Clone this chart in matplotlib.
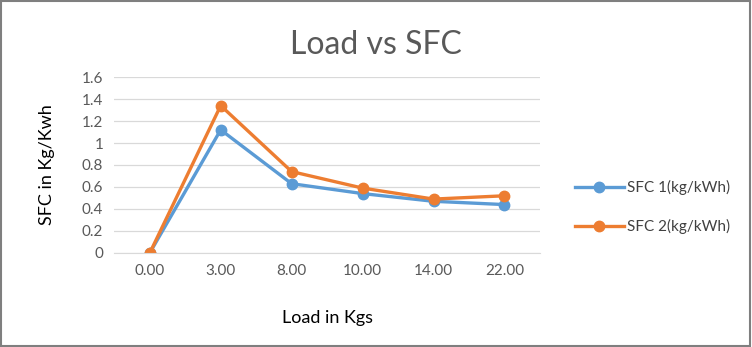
import numpy as np
import matplotlib.pyplot as plt
from matplotlib.patches import Rectangle

loads = ["0.00", "3.00", "8.00", "10.00", "14.00", "22.00"]
sfc1 = [0.0, 1.12, 0.63, 0.54, 0.47, 0.44]
sfc2 = [0.0, 1.34, 0.74, 0.59, 0.49, 0.52]

plt.rcParams['font.family'] = ['Lato', 'DejaVu Sans']

fig = plt.figure(figsize=(7.52, 3.47), dpi=100)
ax = fig.add_axes([0.152, 0.271, 0.566, 0.507])

x = np.arange(len(loads))
ax.plot(x, sfc1, color='#5B9BD5', lw=2.4, marker='o', ms=7.5, label='SFC 1(kg/kWh)')
ax.plot(x, sfc2, color='#ED7D31', lw=2.4, marker='o', ms=7.5, label='SFC 2(kg/kWh)')

ax.set_xlim(-0.5, len(loads) - 0.5)
ax.set_ylim(0, 1.6)
ax.set_yticks(np.arange(0, 1.61, 0.2))
ax.set_yticklabels(["0", "0.2", "0.4", "0.6", "0.8", "1", "1.2", "1.4", "1.6"])
ax.set_xticks(x)
ax.set_xticklabels(loads)
ax.grid(axis='y', color='#D9D9D9', lw=0.9)
ax.set_axisbelow(True)
for s in ['top', 'right', 'left']:
    ax.spines[s].set_visible(False)
ax.spines['bottom'].set_color('#D9D9D9')
ax.tick_params(length=0, labelsize=11, colors='#595959', pad=8)

ax.set_xlabel("Load in Kgs", fontsize=13, labelpad=23, color='black')
ax.set_ylabel("SFC in Kg/Kwh", fontsize=13, labelpad=19, color='black')
fig.text(0.500, 0.87, "Load vs SFC", fontsize=23, color='#595959', ha='center', va='center')

ax.legend(loc='center left', bbox_to_anchor=(1.05, 0.26), frameon=False, fontsize=11,
          labelspacing=1.55, handlelength=3.2, handletextpad=0.2, labelcolor='#404040')

fig.patches.append(Rectangle((0.001, 0.002), 0.997, 0.995, transform=fig.transFigure,
                             fill=False, edgecolor='#7F7F7F', lw=1.5))

fig.savefig("out.png", dpi=100)
